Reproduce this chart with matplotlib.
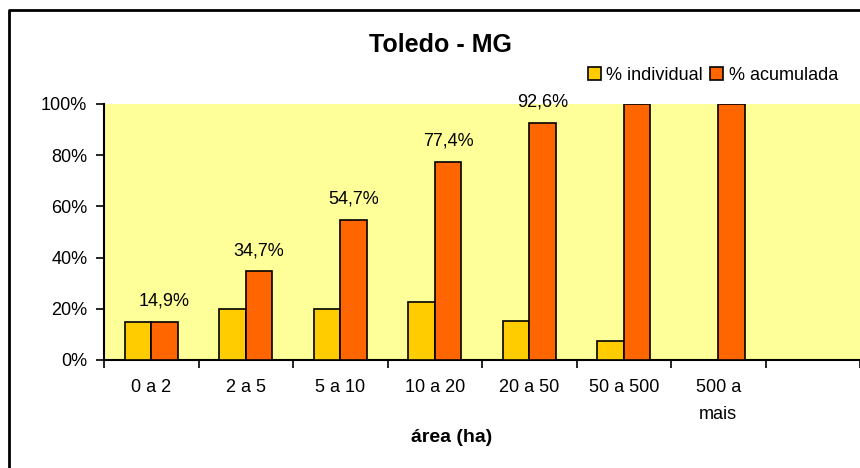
import numpy as np
import matplotlib.pyplot as plt
from matplotlib.lines import Line2D
from matplotlib.ticker import FixedLocator, NullFormatter

plt.rcParams['font.family'] = ['Liberation Sans', 'DejaVu Sans']

# Data
categories = ['0 a 2', '2 a 5', '5 a 10', '10 a 20', '20 a 50', '50 a 500', '500 a\nmais', '']
individual = [14.9, 19.8, 20.0, 22.7, 15.2, 7.4, 0.0, 0.0]
acumulada = [14.9, 34.7, 54.7, 77.4, 92.6, 100.0, 100.0, 0.0]
labels = ['14,9%', '34,7%', '54,7%', '77,4%', '92,6%', '', '', '']

fig = plt.figure(figsize=(8.6, 4.68), dpi=100)
ax = fig.add_axes([104/860, 108/468, 756/860, 256/468])
ax.set_facecolor('#FFFF99')

x = np.arange(len(categories))
w = 0.28
ax.bar(x - w/2, individual, w, color='#FFCC00', edgecolor='black', linewidth=1.2,
       label='% individual', zorder=3)
ax.bar(x + w/2, acumulada, w, color='#FF6600', edgecolor='black', linewidth=1.2,
       label='% acumulada', zorder=3)

# value labels above the accumulated bars
for xi, v, t in zip(x, acumulada, labels):
    if t:
        ax.text(xi + 0.14, v + 8, t, ha='center', va='center', fontsize=13)

ax.set_xlim(-0.5, len(categories) - 0.5)
ax.set_ylim(0, 100)
ax.set_yticks([0, 20, 40, 60, 80, 100])
ax.set_yticklabels(['0%', '20%', '40%', '60%', '80%', '100%'], fontsize=13)

# ticks on category boundaries, labels centered
ax.xaxis.set_major_locator(FixedLocator(np.arange(len(categories) + 1) - 0.5))
ax.xaxis.set_major_formatter(NullFormatter())
ax.xaxis.set_minor_locator(FixedLocator(x))
ax.set_xticklabels(categories, minor=True, fontsize=13, linespacing=1.7)
ax.tick_params(axis='x', which='minor', length=0, pad=14)
ax.tick_params(axis='x', which='major', length=6, width=1.2, direction='out')
ax.tick_params(axis='y', length=6, width=1.2, direction='out', pad=6)

for s in ['top', 'right']:
    ax.spines[s].set_visible(False)
for s in ['left', 'bottom']:
    ax.spines[s].set_linewidth(1.5)

fig.text(440/860, 1 - 45/468, 'Toledo - MG', ha='center', va='center',
         fontsize=18, fontweight='bold')
fig.text(452/860, 1 - 438/468, 'área (ha)', ha='center', va='center',
         fontsize=14, fontweight='bold')

fig.legend(loc='center right', bbox_to_anchor=(845/860, 1 - 75/468), ncol=2,
           frameon=False, fontsize=13, handlelength=0.7, handleheight=0.7,
           handletextpad=0.3, columnspacing=0.4, borderaxespad=0)

# outer frame
fig.add_artist(Line2D([9/860, 9/860, 1.0], [0.0, 1 - 10/468, 1 - 10/468],
                      transform=fig.transFigure, color='black', linewidth=2.0))

fig.savefig('out.png', dpi=100)
